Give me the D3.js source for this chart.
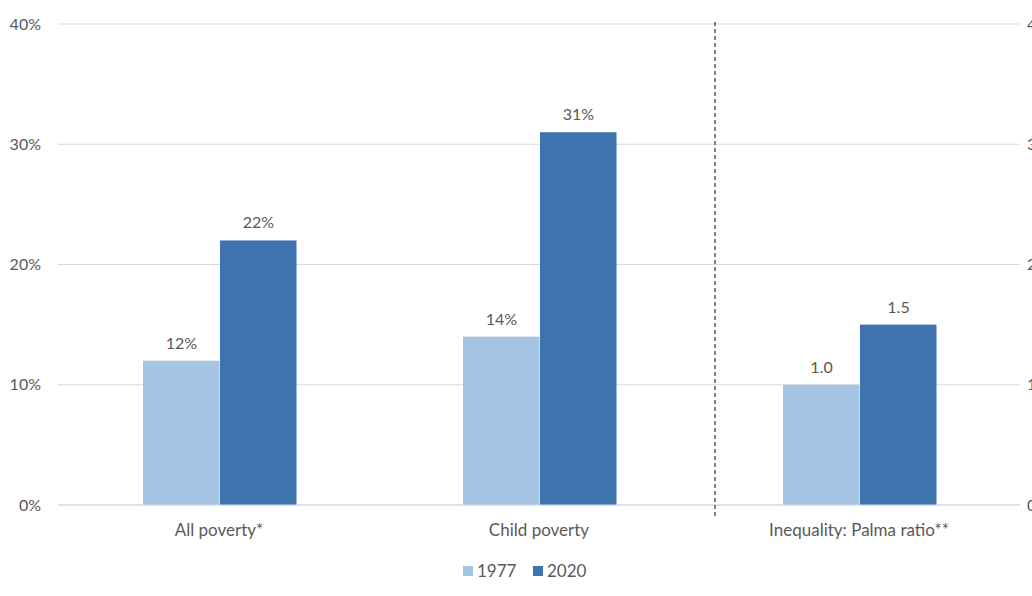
<!DOCTYPE html>
<html><head><meta charset="utf-8">
<script src="https://cdn.jsdelivr.net/npm/d3@7"></script>
<style>body{margin:0;background:#fff}svg{display:block}text{font-family:Lato,"Open Sans",sans-serif;fill:#595959}</style>
</head><body><svg id="c" width="1032" height="596"></svg>
<script>
const categories = ["All poverty*", "Child poverty", "Inequality: Palma ratio**"];
const seriesNames = ["1977", "2020"];
const values1977 = [0.12, 0.14, 1.0];
const values2020 = [0.22, 0.31, 1.5];
const labels1977 = ["12%", "14%", "1.0"];
const labels2020 = ["22%", "31%", "1.5"];
const leftTicks = [0, 0.1, 0.2, 0.3, 0.4];
const rightTicks = [0, 1, 2, 3, 4];
const colors = ["#a5c3e3", "#3f73b0"];
const useRight = [false, false, true];

(function(){
const svg = d3.select("#c");
const pL = 58, pR = 1020, pT = 24, pB = 505;
const x = d3.scaleBand().domain(categories).range([pL + 1, pR - 1]);
const xs = d3.scaleBand().domain(seriesNames).range([0, 154]);
const yL = d3.scaleLinear().domain([0, 0.4]).range([pB, pT]);
const yR = d3.scaleLinear().domain([0, 4]).range([pB, pT]);

svg.append("g").selectAll("line").data(leftTicks).join("line")
  .attr("x1", pL).attr("x2", pR).attr("y1", d => yL(d)).attr("y2", d => yL(d))
  .attr("stroke", "#d9d9d9").attr("stroke-width", 1);

const ga = svg.append("g").attr("transform", `translate(${pL},0)`)
  .call(d3.axisLeft(yL).tickValues(leftTicks).tickFormat(d3.format(".0%")).tickSize(0).tickPadding(17));
ga.select(".domain").remove();
ga.selectAll("text").style("font-size", "16px").attr("fill", "#595959");

const gr = svg.append("g").attr("transform", `translate(${pR},0)`)
  .call(d3.axisRight(yR).tickValues(rightTicks).tickFormat(d3.format(".1f")).tickSize(0).tickPadding(7));
gr.select(".domain").remove();
gr.selectAll("text").style("font-size", "16px").attr("fill", "#595959");

const data = categories.map((c, i) => ({c, i, vals: [values1977[i], values2020[i]], labs: [labels1977[i], labels2020[i]]}));
data.forEach(d => {
  const y = useRight[d.i] ? yR : yL;
  const g = svg.append("g").attr("transform", `translate(${x(d.c) + x.bandwidth()/2 - 76},0)`);
  seriesNames.forEach((s, j) => {
    g.append("rect").attr("x", xs(s)).attr("width", xs.bandwidth() - 0.5)
      .attr("y", y(d.vals[j])).attr("height", pB - y(d.vals[j])).attr("fill", colors[j]);
    g.append("text").attr("x", xs(s) + xs.bandwidth()/2).attr("y", y(d.vals[j]) - 12)
      .attr("text-anchor", "middle").style("font-size", "16px").text(d.labs[j]);
  });
});

svg.append("line").attr("x1", pL).attr("x2", pR).attr("y1", pB).attr("y2", pB).attr("stroke", "#d9d9d9");

svg.append("g").selectAll("text").data(categories).join("text")
  .attr("x", d => x(d) + x.bandwidth()/2).attr("y", 536).attr("text-anchor", "middle")
  .style("font-size", "17px").text(d => d);

const sepX = x(categories[2]) + 16;
svg.append("line").attr("x1", sepX).attr("x2", sepX).attr("y1", 22).attr("y2", 519)
  .attr("stroke", "#595959").attr("stroke-width", 1.5).attr("stroke-dasharray", "4,3");

const leg = svg.append("g").attr("transform", "translate(463,571)");
const legX = [0, 70];
seriesNames.forEach((s, j) => {
  leg.append("rect").attr("x", legX[j]).attr("y", -5).attr("width", 10).attr("height", 10).attr("fill", colors[j]);
  leg.append("text").attr("x", legX[j] + 14).attr("y", 6).style("font-size", "17px").text(s);
});
})();
</script></body></html>
